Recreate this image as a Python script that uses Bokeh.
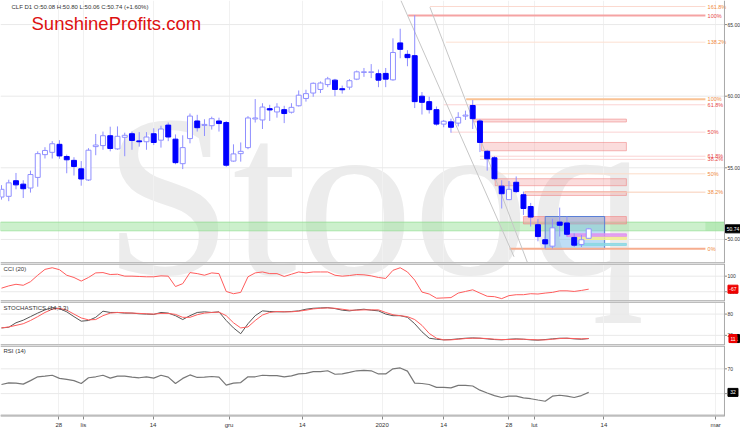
from bokeh.plotting import figure
from bokeh.models import ColumnDataSource, Range1d, FixedTicker, Label, Span
from bokeh.layouts import column
from bokeh.embed import file_html
from bokeh.resources import INLINE
from bokeh.core.properties import value

# ---------------- data ----------------
opens = [52.96, 53.01, 54.10, 53.86, 53.59, 54.33, 55.92, 56.08, 56.64, 55.79,
         55.52, 54.93, 54.15, 56.48, 56.55, 57.24, 56.32, 57.13, 57.38, 56.88,
         56.82, 57.38, 56.93, 57.98, 57.00, 55.29, 57.04, 58.27, 57.96, 57.94,
         58.27, 58.16, 55.47, 55.99, 56.41, 58.41, 58.34, 59.13, 58.90, 59.06,
         58.88, 59.33, 59.84, 60.22, 60.47, 60.81, 61.12, 60.52, 60.63, 61.19,
         61.66, 61.66, 61.57, 61.59, 61.14, 63.72, 62.92, 62.83, 60.00, 59.62,
         59.06, 58.05, 58.21, 58.12, 58.61, 59.35, 58.27, 56.15, 55.70, 53.72,
         52.78, 53.99, 53.12, 52.30, 51.03, 49.98, 49.53, 51.21, 51.15, 50.14,
         49.65, 50.08]
highs = [53.79, 54.17, 54.64, 54.13, 54.80, 56.15, 56.44, 56.86, 56.93, 55.92,
         55.74, 55.47, 56.37, 57.36, 57.53, 57.87, 57.89, 57.45, 57.53, 57.49,
         57.49, 57.76, 57.94, 58.16, 57.33, 57.27, 58.79, 58.70, 58.39, 58.57,
         58.50, 58.27, 56.64, 56.77, 58.61, 59.80, 59.51, 59.40, 59.51, 59.33,
         59.51, 60.40, 60.45, 60.96, 61.03, 61.35, 61.21, 60.74, 61.19, 61.79,
         61.97, 62.24, 61.86, 61.97, 64.04, 64.71, 63.21, 65.65, 60.29, 59.96,
         59.28, 58.34, 58.43, 58.88, 58.99, 59.73, 58.39, 56.26, 55.81, 54.13,
         54.08, 54.40, 53.34, 52.55, 51.42, 50.20, 51.44, 52.22, 51.60, 50.43,
         50.32, 50.80]
lows = [52.78, 52.67, 53.50, 52.89, 53.27, 53.68, 55.65, 55.65, 55.63, 54.62,
        54.46, 53.75, 54.08, 55.88, 56.26, 56.15, 56.26, 55.81, 56.26, 56.48,
        56.26, 56.59, 56.41, 56.86, 55.25, 54.91, 56.71, 57.53, 57.22, 57.67,
        57.53, 55.07, 55.43, 55.43, 56.30, 58.16, 57.71, 58.27, 58.50, 58.12,
        58.79, 59.28, 59.62, 59.96, 60.22, 60.63, 60.00, 60.18, 60.45, 61.12,
        61.35, 61.26, 60.63, 60.63, 61.08, 62.65, 62.09, 59.17, 58.72, 58.79,
        57.94, 57.83, 57.45, 57.89, 58.34, 57.71, 56.10, 54.80, 54.13, 52.16,
        52.74, 53.23, 51.71, 50.90, 49.87, 49.35, 49.37, 50.20, 50.20, 49.47,
        49.47, 50.06]
closes = [53.50, 53.95, 53.81, 53.54, 54.53, 55.99, 56.21, 56.68, 55.83, 55.56,
          55.09, 54.22, 56.23, 56.59, 57.24, 56.35, 57.20, 57.27, 56.91, 56.82,
          57.15, 56.77, 57.71, 57.15, 55.36, 56.41, 58.61, 57.80, 58.03, 58.43,
          58.09, 55.18, 55.97, 56.15, 58.48, 58.48, 59.24, 59.04, 59.24, 58.79,
          59.22, 60.07, 60.18, 60.90, 60.92, 61.21, 60.47, 60.45, 61.08, 61.70,
          61.70, 61.70, 61.12, 61.19, 63.05, 63.27, 62.69, 59.62, 59.57, 59.06,
          58.05, 58.25, 57.83, 58.52, 58.68, 58.43, 56.77, 55.63, 54.24, 53.19,
          53.50, 53.34, 52.16, 51.56, 50.20, 49.69, 50.81, 50.99, 50.36, 49.60,
          49.98, 50.74]
change_pct = 1.60

cci = [-54, -25, -4, -17, 29, 112, 187, 208, 183, 112,
       83, 37, 83, 142, 146, 121, 125, 100, 100, 96,
       92, 92, 104, 100, -33, 4, 146, 133, 112, 142,
       133, -96, -125, -108, 92, 142, 154, 133, 133, 96,
       125, 154, 142, 154, 154, 154, 112, 100, 108, 121,
       117, 104, 83, 71, 175, 208, 154, 50, -104, -129,
       -183, -179, -175, -117, -96, -75, -117, -158, -163, -188,
       -150, -138, -138, -125, -129, -117, -108, -88, -88, -96,
       -83, -67]
stoch_k = [41.0, 42.8, 55.5, 62.8, 72.8, 82.8, 91.9, 98.2, 95.5, 86.4,
           72.8, 60.0, 61.9, 70.9, 88.2, 84.6, 84.6, 82.8, 82.8, 80.9,
           80.0, 79.1, 84.6, 82.8, 75.5, 64.6, 75.5, 84.6, 86.4, 84.6,
           86.4, 61.9, 41.0, 24.6, 52.8, 75.5, 89.1, 87.3, 86.4, 86.4,
           87.3, 89.1, 93.7, 96.4, 97.3, 98.2, 95.5, 91.0, 89.1, 91.9,
           93.7, 91.0, 89.1, 80.0, 75.5, 75.5, 70.9, 52.8, 30.1, 11.9,
           9.1, 7.3, 8.2, 10.1, 11.9, 12.8, 11.9, 10.1, 8.2, 7.3,
           9.1, 10.1, 9.1, 7.3, 6.4, 8.2, 10.1, 11.9, 11.9, 10.1,
           9.1, 11.0]
stoch_d = [41.0, 43.7, 48.2, 52.8, 61.9, 72.8, 84.6, 93.7, 96.4, 91.0,
           80.0, 69.1, 63.7, 64.6, 75.5, 82.8, 84.6, 83.7, 82.8, 81.9,
           80.9, 80.0, 81.9, 81.9, 79.1, 70.9, 70.9, 78.2, 82.8, 84.6,
           85.5, 75.5, 55.5, 41.0, 43.7, 61.9, 77.3, 84.6, 87.3, 86.4,
           86.4, 88.2, 91.0, 94.6, 96.4, 97.3, 96.4, 93.7, 91.0, 91.0,
           91.9, 91.9, 91.9, 84.6, 78.2, 75.5, 72.8, 64.6, 48.2, 25.5,
           11.9, 7.3, 7.3, 9.1, 11.0, 11.9, 11.9, 11.0, 9.1, 8.2,
           8.2, 9.1, 9.1, 8.2, 7.3, 7.3, 9.1, 11.0, 11.9, 11.0,
           10.1, 11.0]
rsi = [44.8, 47.4, 46.9, 45.4, 51.0, 57.2, 58.2, 59.7, 54.6, 53.0,
       51.0, 46.4, 55.6, 57.2, 59.7, 55.1, 58.2, 58.2, 56.6, 55.6,
       57.2, 55.1, 59.7, 56.6, 46.4, 54.6, 60.2, 56.1, 56.6, 57.7,
       56.6, 43.8, 46.9, 47.9, 57.2, 57.2, 59.7, 59.2, 59.2, 57.2,
       58.7, 61.8, 62.8, 65.4, 65.4, 66.9, 61.3, 61.8, 64.3, 66.9,
       67.4, 66.9, 61.8, 61.8, 70.0, 71.5, 66.4, 46.9, 46.4, 44.8,
       40.2, 40.2, 39.2, 43.3, 43.3, 42.3, 35.6, 31.0, 26.9, 23.8,
       25.9, 25.9, 23.3, 21.8, 19.7, 17.7, 25.9, 27.4, 25.9, 23.8,
       26.9, 32.0]

# x axis: bar index positions of the date ticks
x_tick_pos = [7.9, 11.3, 20.9, 31.4, 41.5, 52.5, 61.0, 70.0, 73.5, 83.1, 98.5]
x_tick_labels = ["28", "lis", "14", "gru", "14", "2020", "14", "28", "lut", "14", "mar"]

price_ticks = [50, 55, 60, 65]
price_tick_labels = ["50.00", "55.00", "60.00", "65.00"]
cci_ticks = [-100, 100]
cci_tick_labels = ["-100", "100"]
stoch_ticks = [20, 80]
stoch_tick_labels = ["20", "80"]
rsi_ticks = [30, 70]
rsi_tick_labels = ["30", "70"]

# Fibonacci levels drawn on the chart (price, label, first bar index)
fib_levels = [66.26, 65.63, 63.77, 59.78, 59.40, 57.49, 55.81, 55.59, 54.58, 53.30, 49.35]
fib_labels = ["161.8%", "100%", "138.2%", "100%", "61.8%", "50%", "61.8%", "38.2%", "50%", "38.2%", "0%"]
fib_start = [59.1, 56.1, 61.3, 64.1, 61.0, 62.0, 66.0, 66.0, 68.0, 72.0, 70.1]
fib_end = 97.1

# resistance zones (gaps)
zone_bottom = [58.20, 56.19, 53.75, 53.07, 51.08]
zone_top = [58.40, 56.77, 54.24, 53.34, 51.60]
zone_start = [65.1, 66.2, 68.1, 72.2, 72.0]
zone_end = 86.2

# support bands
band_bottom = [50.20, 50.00, 49.58]
band_top = [50.39, 50.15, 49.72]
band_start = [78.0, 78.6, 79.0]

green_bottom, green_top = 50.60, 51.21
blue_box = dict(left=75.0, right=83.2, bottom=49.33, top=51.60)

# declining trend lines (start bar, start price, end bar, end price)
trend_x0 = [55.1, 59.1]
trend_y0 = [66.68, 66.21]
trend_x1 = [70.7, 72.6]
trend_y1 = [48.79, 48.32]

# ---------------- layout constants ----------------
FONT = "Liberation Sans"
FW = 740
X0, X1 = -0.136, 101.94          # visible bar-index range
AXIS_X = 99.73                   # bar index where the price scale starts
PX = FW / (X1 - X0)              # pixels per bar
TICK_LEN = 2.5 / PX
LABEL_X = AXIS_X + 3.0 / PX
BOX_X = AXIS_X + 8.5 / PX
SEP = "#bdbdbd"

n = len(closes)
idx = list(range(n))
xr = Range1d(X0, X1)


def base_fig(frame_h, y0, y1, ticks, tick_labels, bottom_border=0, show_x=False):
    p = figure(frame_width=FW, frame_height=frame_h, x_range=xr, y_range=Range1d(y0, y1),
               output_backend="svg", toolbar_location=None,
               x_axis_location="below" if show_x else None, y_axis_location=None,
               min_border_left=0, min_border_right=0, min_border_top=0,
               min_border_bottom=bottom_border)
    p.outline_line_color = None
    p.border_fill_color = "white"
    p.background_fill_color = "white"
    p.xgrid.ticker = FixedTicker(ticks=x_tick_pos)
    p.xgrid.grid_line_color = "#f1f1f1"
    p.ygrid.grid_line_color = None
    # horizontal grid lines up to the price scale
    p.segment(x0=X0, y0=ticks, x1=AXIS_X, y1=ticks, line_color="#e9e9e9", line_width=1)
    return p


def right_scale(p, y0, y1, ticks, tick_labels, top_sep=True, bottom_sep=True, size="5px"):
    p.add_layout(Span(location=AXIS_X, dimension="height", line_color="#a8a8a8", line_width=1))
    p.segment(x0=AXIS_X, y0=ticks, x1=AXIS_X + TICK_LEN, y1=ticks, line_color="#888888")
    p.text(x=LABEL_X, y=ticks, text=tick_labels, text_font=value(FONT), text_font_size=size,
           text_color="#333333", text_baseline="middle", text_align="left")
    if top_sep:
        p.segment(x0=X0, y0=y1, x1=AXIS_X, y1=y1, line_color=SEP, line_width=3)
    if bottom_sep:
        p.segment(x0=X0, y0=y0, x1=AXIS_X, y1=y0, line_color=SEP, line_width=3)


def watermark(p, y):
    p.add_layout(Label(x=103, y=y, x_units="screen", y_units="screen", text="Stooq",
                       text_font="Liberation Serif", text_font_size="232px",
                       text_color="#ececec", text_baseline="middle", level="image"))


def title(p, y, text):
    p.add_layout(Label(x=3, y=y, x_units="screen", y_units="screen", text=text,
                       text_font=FONT, text_font_size="6px", text_color="#333333",
                       text_baseline="middle"))


def value_box(p, y, text, bg, dx=0.0, w=15):
    p.rect(x=BOX_X + dx, y=y, width=w, height=8, width_units="screen", height_units="screen",
           fill_color=bg, line_color=bg)
    p.text(x=BOX_X + dx, y=y, text=[text], text_font=value(FONT), text_font_size="5px",
           text_color="white", text_baseline="middle", text_align="center")


# ---- price panel ----
PY0, PY1 = 48.32, 66.68
pp = base_fig(263, PY0, PY1, price_ticks, price_tick_labels)
watermark(pp, 68)

pp.quad(left=X0, right=AXIS_X, bottom=green_bottom, top=green_top,
        fill_color="#a2e4a2", fill_alpha=0.55, line_color="#86d886", line_alpha=0.6)
pp.quad(left=fib_end, right=AXIS_X, bottom=green_bottom, top=green_top,
        fill_color="#8ede8e", fill_alpha=0.35, line_color=None)

zsrc = ColumnDataSource(dict(left=zone_start, right=[zone_end] * len(zone_start),
                             bottom=zone_bottom, top=zone_top,
                             alpha=[0.35, 0.35, 0.35, 0.35, 0.55]))
pp.quad(left="left", right="right", bottom="bottom", top="top", source=zsrc,
        fill_color="#f49a9a", fill_alpha="alpha", line_color="#ee8080", line_alpha=0.55)

pp.quad(left=blue_box["left"], right=blue_box["right"], bottom=blue_box["bottom"], top=blue_box["top"],
        fill_color="#6fb3ea", fill_alpha=0.45, line_color="#5a7fd6", line_width=1)

band_colors = ["#e08ef0", "#f4ec8c", "#8ad8e4"]
bsrc = ColumnDataSource(dict(left=band_start, right=[zone_end] * len(band_start),
                             bottom=band_bottom, top=band_top, color=band_colors))
pp.quad(left="left", right="right", bottom="bottom", top="top", source=bsrc,
        fill_color="color", fill_alpha=0.8, line_color="color", line_alpha=0.9)

fib_line_colors = ["#fbd9cf", "#f5a3a3", "#fde0d2", "#f9c294", "#fbd3d3", "#fbd3d3",
                   "#fbd3d3", "#fbd3d3", "#fcdcc8", "#f8cdb6", "#f6ad8e"]
fib_line_widths = [1, 2, 1, 2, 1, 1, 1, 1, 1, 1, 2]
fib_text_colors = ["#f08a3c", "#e84848", "#f08a3c", "#f08a3c", "#e84848", "#e84848",
                   "#e84848", "#e84848", "#f08a3c", "#f08a3c", "#f08a3c"]
fsrc = ColumnDataSource(dict(x0=fib_start, x1=[fib_end] * len(fib_levels), y=fib_levels,
                             lc=fib_line_colors, lw=fib_line_widths, tc=fib_text_colors,
                             label=fib_labels, tx=[fib_end + 0.3] * len(fib_levels)))
pp.segment(x0="x0", y0="y", x1="x1", y1="y", line_color="lc", line_width="lw", source=fsrc)

pp.segment(x0=trend_x0, y0=trend_y0, x1=trend_x1, y1=trend_y1, line_color="#c6c6c6", line_width=1)

up = [c >= o for o, c in zip(opens, closes)]
csrc = ColumnDataSource(dict(
    x=idx, h=highs, l=lows,
    top=[max(o, c) for o, c in zip(opens, closes)],
    bot=[min(o, c) for o, c in zip(opens, closes)],
    fill=["#ffffff" if u else "#0000ff" for u in up],
    line=["#8f8fff" if u else "#0000ff" for u in up],
))
pp.segment(x0="x", y0="h", x1="x", y1="l", line_color="#8f8fff", line_width=1, source=csrc)
pp.vbar(x="x", width=0.68, top="top", bottom="bot", fill_color="fill", line_color="line",
        line_width=1, source=csrc)

pp.text(x="tx", y="y", text="label", text_color="tc", text_font=value(FONT),
        text_font_size="5.5px", text_baseline="middle", source=fsrc)

right_scale(pp, PY0, PY1, price_ticks, price_tick_labels, top_sep=False)
value_box(pp, closes[-1], f"{closes[-1]:.2f}", "#000000")

pp.add_layout(Label(x=11, y=257, x_units="screen", y_units="screen",
                    text=f"CLF D1 O:{opens[-1]:.2f} H:{highs[-1]:.2f} L:{lows[-1]:.2f} "
                         f"C:{closes[-1]:.2f} (+{change_pct:.2f}%)",
                    text_font=FONT, text_font_size="6px", text_color="#333333", text_baseline="middle"))
pp.add_layout(Label(x=31, y=240, x_units="screen", y_units="screen", text="SunshineProfits.com",
                    text_font=FONT, text_font_size="18.5px", text_color="#dd1111",
                    text_baseline="middle"))

# ---- CCI panel ----
CY0, CY1 = -225, 262.5
pc = base_fig(38, CY0, CY1, cci_ticks, cci_tick_labels)
watermark(pc, 106)
pc.line(idx, cci, line_color="#ff5c5c", line_width=1)
right_scale(pc, CY0, CY1, cci_ticks, cci_tick_labels)
title(pc, 33, "CCI (20)")
value_box(pc, cci[-1], f"{cci[-1]:.0f}", "#ee0000", w=10)

# ---- Stochastics panel ----
SY0, SY1 = -8.6, 115.5
ps = base_fig(44, SY0, SY1, stoch_ticks, stoch_tick_labels)
watermark(ps, 150)
ps.line(idx, stoch_k, line_color="#555555", line_width=1)
ps.line(idx, stoch_d, line_color="#ff5c5c", line_width=1)
right_scale(ps, SY0, SY1, stoch_ticks, stoch_tick_labels)
title(ps, 38, "STOCHASTICS (14,3,3)")
value_box(ps, stoch_k[-1], f"{stoch_k[-1]:.0f}", "#000000", dx=0.35, w=8)
value_box(ps, stoch_d[-1], f"{stoch_d[-1]:.0f}", "#ee0000", w=8)

# ---- RSI panel ----
RY0, RY1 = -6.9, 107.7
pr = base_fig(71, RY0, RY1, rsi_ticks, rsi_tick_labels, bottom_border=12, show_x=True)
pr.line(idx, rsi, line_color="#777777", line_width=1.2)
right_scale(pr, RY0, RY1, rsi_ticks, rsi_tick_labels)
pr.segment(x0=X0, y0=RY0, x1=AXIS_X, y1=RY0, line_color=SEP, line_width=4)
title(pr, 66, "RSI (14)")
value_box(pr, rsi[-1], f"{rsi[-1]:.0f}", "#000000", w=10)
xa = pr.xaxis[0]
xa.ticker = FixedTicker(ticks=x_tick_pos)
xa.major_label_overrides = {t: lab for t, lab in zip(x_tick_pos, x_tick_labels)}
xa.major_label_text_font_size = "6px"
xa.major_label_text_font = FONT
xa.major_label_text_color = "#333333"
xa.axis_line_color = None
xa.major_tick_line_color = "#888888"
xa.major_tick_out = 3
xa.major_tick_in = 0
xa.minor_tick_line_color = None
xa.major_label_standoff = 2

layout = column(pp, pc, ps, pr, spacing=0)
open("out.html", "w").write(file_html(layout, INLINE))
